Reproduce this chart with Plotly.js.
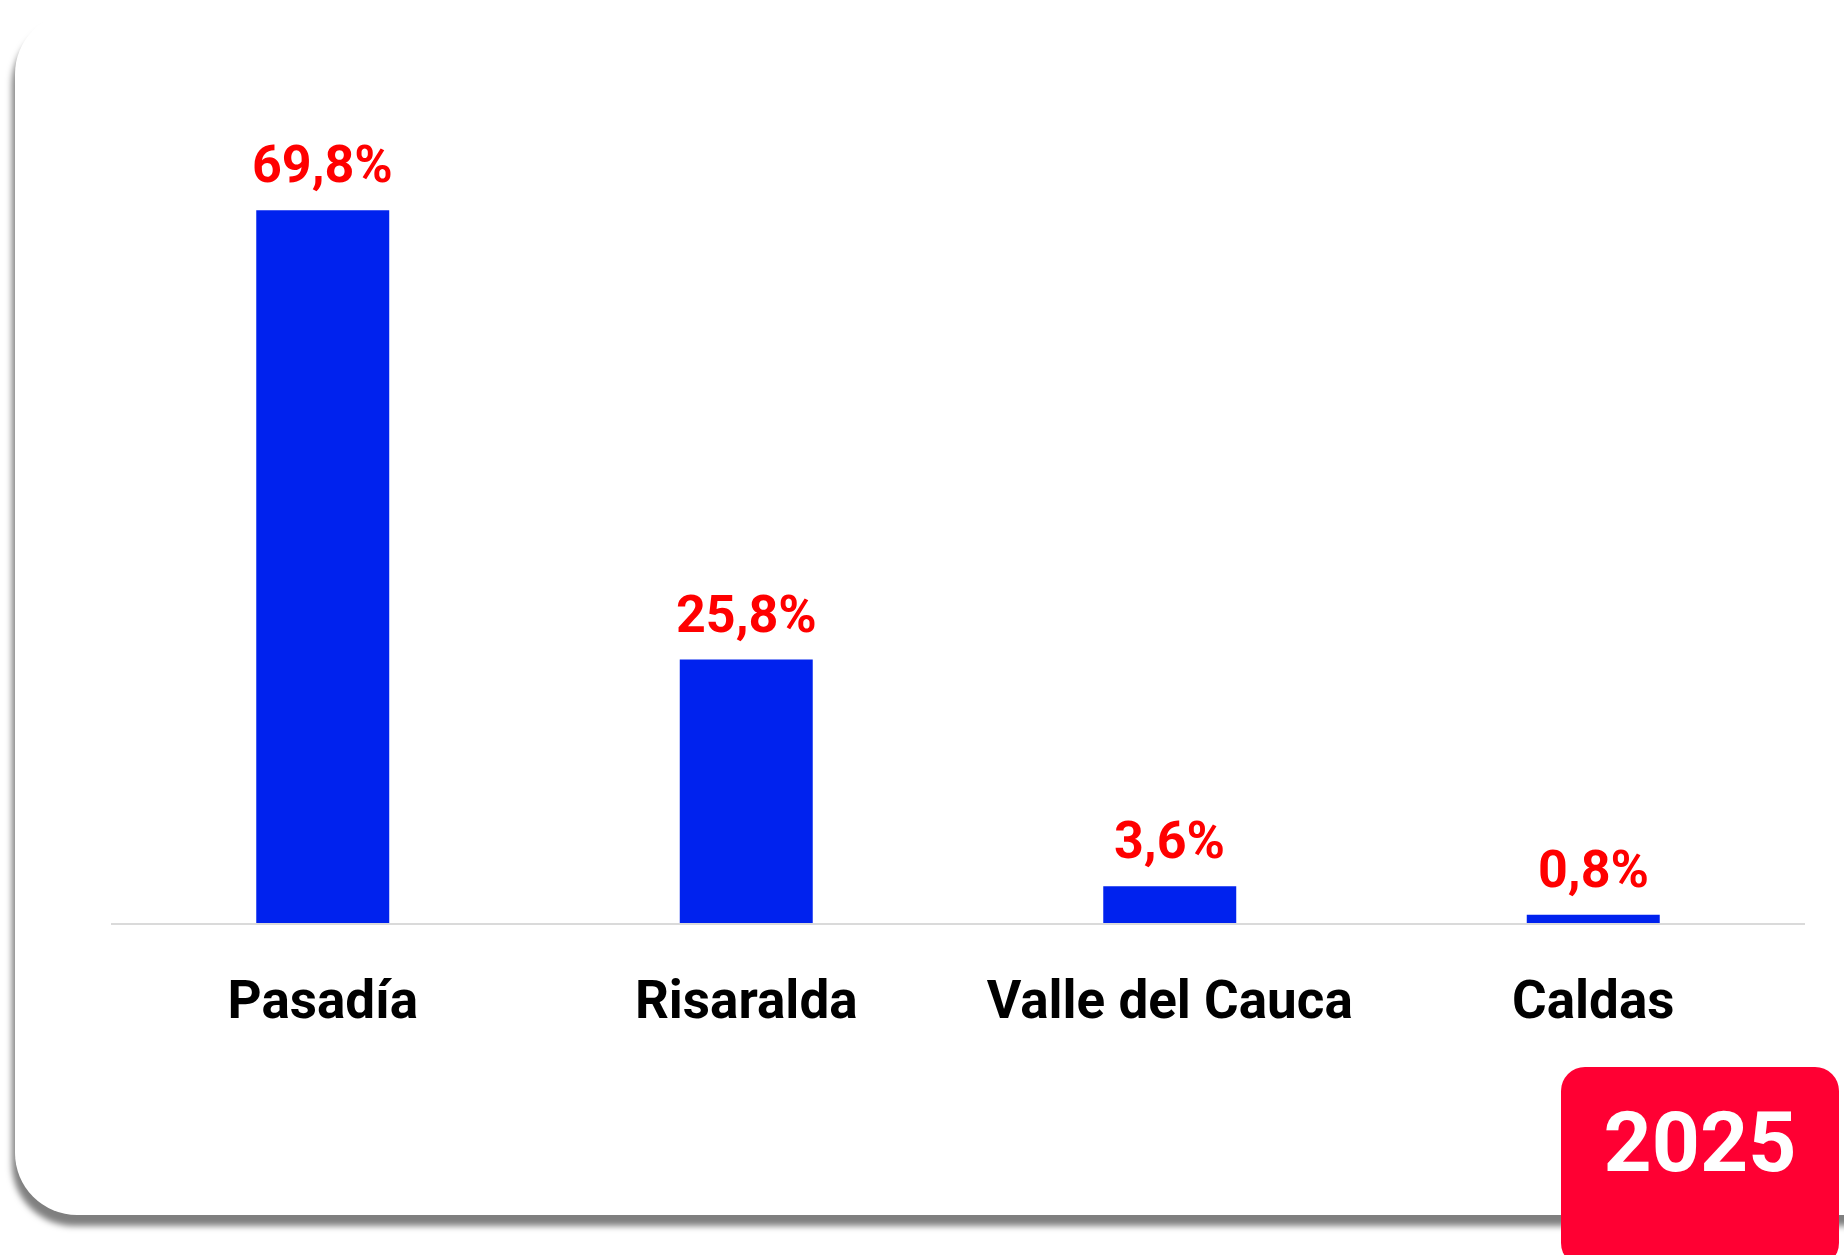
<!DOCTYPE html>
<html>
<head>
<meta charset="utf-8">
<script src="https://cdn.plot.ly/plotly-3.0.1.min.js"></script>
<style>
  html, body { margin:0; padding:0; width:1844px; height:1255px; overflow:hidden; background:#ffffff; font-family: Roboto, sans-serif; }
  #card { position:absolute; left:15px; top:12px; width:1900px; height:1203px; background:#ffffff; border-radius:62px; box-shadow: -3px 11px 6px rgba(0,0,0,0.5); }
  #chart { position:absolute; left:0; top:0; width:1844px; height:1255px; }
  #badge { position:absolute; left:1561px; top:1067px; width:278px; height:200px; background:#ff0033; border-radius:24px;
           color:#ffffff; font: 700 84px Roboto, sans-serif; text-align:center; line-height:152px; }
</style>
</head>
<body>
<div id="card"></div>
<div id="chart"></div>
<div id="badge">2025</div>
<script>
const categories = ["Pasadía", "Risaralda", "Valle del Cauca", "Caldas"];
const values = [69.8, 25.8, 3.6, 0.8];
const valueLabels = ["69,8%", "25,8%", "3,6%", "0,8%"];
const yearLabel = "2025";

const trace = {
  type: "bar",
  x: categories,
  y: values,
  marker: { color: "#0022ee" },
  hoverinfo: "skip",
  showlegend: false
};

const annotations = categories.map((c, i) => ({
  x: c, y: values[i], xref: "x", yref: "y",
  text: "<b>" + valueLabels[i] + "</b>",
  showarrow: false, yanchor: "bottom", yshift: 13,
  font: { family: "Roboto, sans-serif", size: 52, color: "#ff0000" }
}));

const layout = {
  width: 1844, height: 1255,
  margin: { l: 111, r: 39, t: 100, b: 332 },
  paper_bgcolor: "rgba(0,0,0,0)",
  plot_bgcolor: "rgba(0,0,0,0)",
  bargap: 0.686,
  xaxis: {
    type: "category",
    showline: true, linecolor: "#dadada", linewidth: 2,
    showgrid: false, zeroline: false, ticks: "",
    ticklabelstandoff: 29,
    tickfont: { family: "Roboto, sans-serif", size: 53, color: "#000000", weight: 700 }
  },
  yaxis: {
    range: [0, 80.6], visible: false, showgrid: false, zeroline: false
  },
  annotations: annotations
};

document.getElementById("badge").textContent = yearLabel;
Plotly.newPlot("chart", [trace], layout, { displayModeBar: false, staticPlot: true });
</script>
</body>
</html>
